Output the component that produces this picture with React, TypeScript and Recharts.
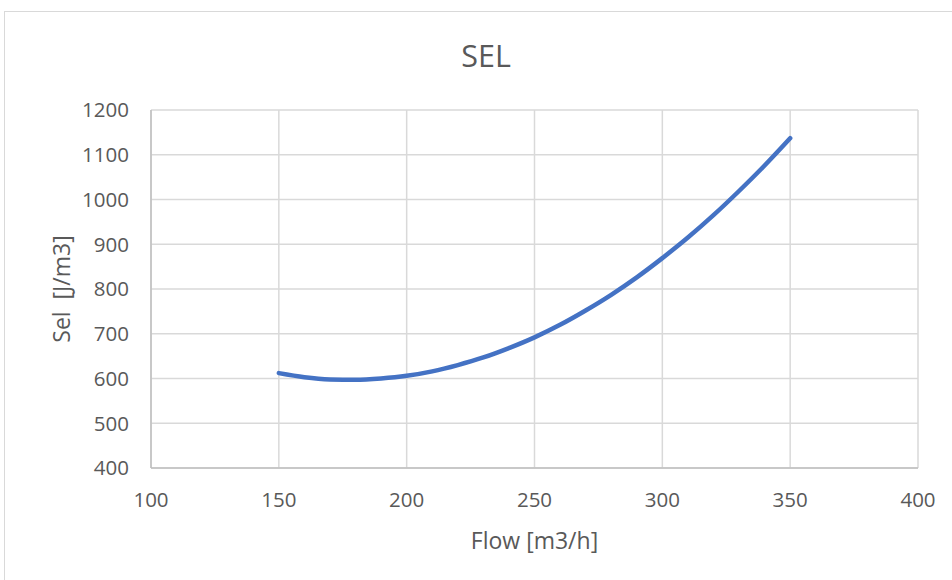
import React from 'react';
import { LineChart, Line, XAxis, YAxis, CartesianGrid, Label } from 'recharts';

// values
const flowValues = [150, 160, 170, 180, 190, 200, 210, 220, 230, 240, 250, 260, 270, 280, 290, 300, 310, 320, 330, 340, 350];
const selValues = [612, 603, 598, 597, 600, 606, 616, 630, 647, 668, 692, 720, 752, 787, 826, 869, 915, 965, 1019, 1076, 1137];

const xTicks = [100, 150, 200, 250, 300, 350, 400];
const yTicks = [400, 500, 600, 700, 800, 900, 1000, 1100, 1200];

const FONT = '"Open Sans", "Segoe UI", sans-serif';
const TEXT = '#595959';
const GRID = '#d9d9d9';

const data = flowValues.map((f, i) => ({ flow: f, sel: selValues[i] }));

const App: React.FC = () => {
  return (
    <div style={{ position: 'absolute', left: 0, top: 0, width: 952, height: 580, overflow: 'hidden', background: '#fff', fontFamily: FONT }}>
      <div style={{ position: 'absolute', left: 4, top: 11, width: 1000, height: 700, border: `1.5px solid ${GRID}`, boxSizing: 'border-box' }} />
      <div style={{ position: 'absolute', left: 0, width: 972, top: 40, textAlign: 'center', fontSize: 30.5, lineHeight: '30px', color: TEXT }}>SEL</div>
      <div style={{ position: 'absolute', left: 0, top: 0 }}>
        <LineChart width={952} height={580} data={data} margin={{ top: 110, right: 34, left: 91, bottom: 82 }}>
          <CartesianGrid stroke={GRID} strokeWidth={1.5} horizontalValues={yTicks} verticalValues={xTicks} />
          <XAxis
            type="number"
            dataKey="flow"
            domain={[100, 400]}
            ticks={xTicks}
            interval={0}
            height={30}
            tickSize={0}
            tickMargin={24}
            tickLine={false}
            axisLine={{ stroke: '#bfbfbf', strokeWidth: 1.5 }}
            tick={{ fill: TEXT, fontSize: 20.5, fontFamily: FONT }}
          >
            <Label
              content={({ viewBox }: any) => (
                <text x={viewBox.x + viewBox.width / 2} y={549} textAnchor="middle" fill={TEXT} fontSize={23} fontFamily={FONT}>
                  Flow [m3/h]
                </text>
              )}
            />
          </XAxis>
          <YAxis
            type="number"
            domain={[400, 1200]}
            ticks={yTicks}
            interval={0}
            width={60}
            tickSize={0}
            tickMargin={22}
            tickLine={false}
            axisLine={{ stroke: '#bfbfbf', strokeWidth: 1.5 }}
            tick={{ fill: TEXT, fontSize: 20.5, fontFamily: FONT }}
          >
            <Label
              content={() => (
                <text x={0} y={0} transform="translate(70, 289) rotate(-90)" textAnchor="middle" fill={TEXT} fontSize={23} fontFamily={FONT} xmlSpace="preserve">
                  {'Sel  [J/m3]'}
                </text>
              )}
            />
          </YAxis>
          <Line
            type="monotone"
            dataKey="sel"
            stroke="#4472C4"
            strokeWidth={4.5}
            strokeLinecap="round"
            dot={false}
            activeDot={false}
            isAnimationActive={false}
          />
        </LineChart>
      </div>
    </div>
  );
};

export default App;
